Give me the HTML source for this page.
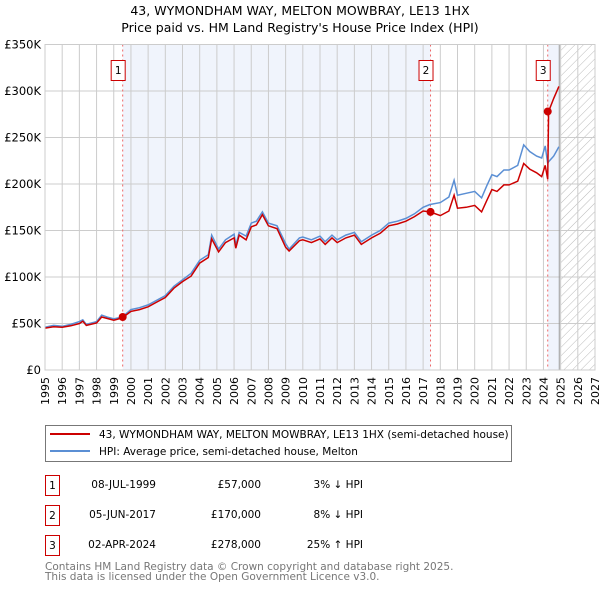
<!DOCTYPE html>
<html><head><meta charset="utf-8"><style>
body{margin:0;background:#fff;font-family:"DejaVu Sans","Liberation Sans",sans-serif;}
svg{display:block}
</style></head><body>
<svg id="c" width="600" height="590" viewBox="0 0 600 590" font-family="DejaVu Sans, Liberation Sans, sans-serif">
<defs>
<pattern id="hatch" width="6" height="6" patternUnits="userSpaceOnUse" patternTransform="rotate(45)">
<line x1="0" y1="0" x2="0" y2="6" stroke="#bbb" stroke-width="1"/></pattern>
</defs>
<text x="300" y="15" text-anchor="middle" font-size="12.5">43, WYMONDHAM WAY, MELTON MOWBRAY, LE13 1HX</text>
<text x="300" y="32" text-anchor="middle" font-size="12.5">Price paid vs. HM Land Registry's House Price Index (HPI)</text>
<g id="plot"></g>
<g>
<rect x="45.5" y="425.5" width="466" height="36" fill="#fff" stroke="#777"/>
<line x1="50" y1="434" x2="90" y2="434" stroke="#cc0000" stroke-width="2"/>
<text x="99" y="438" font-size="10.5">43, WYMONDHAM WAY, MELTON MOWBRAY, LE13 1HX (semi-detached house)</text>
<line x1="50" y1="451" x2="90" y2="451" stroke="#5b8fd4" stroke-width="2"/>
<text x="99" y="455" font-size="10.5">HPI: Average price, semi-detached house, Melton</text>
</g>
<g font-size="10.5">
<rect x="45.5" y="475.5" width="14" height="20" fill="none" stroke="#cc0000"/><text x="52.5" y="489" text-anchor="middle">1</text>
<text x="156" y="488" text-anchor="end">08-JUL-1999</text>
<text x="261" y="488" text-anchor="end">£57,000</text>
<text x="363" y="488" text-anchor="end">3% ↓ HPI</text>
<rect x="45.5" y="505.5" width="14" height="20" fill="none" stroke="#cc0000"/><text x="52.5" y="519" text-anchor="middle">2</text>
<text x="156" y="518" text-anchor="end">05-JUN-2017</text>
<text x="261" y="518" text-anchor="end">£170,000</text>
<text x="363" y="518" text-anchor="end">8% ↓ HPI</text>
<rect x="45.5" y="535.5" width="14" height="20" fill="none" stroke="#cc0000"/><text x="52.5" y="549" text-anchor="middle">3</text>
<text x="156" y="548" text-anchor="end">02-APR-2024</text>
<text x="261" y="548" text-anchor="end">£278,000</text>
<text x="363" y="548" text-anchor="end">25% ↑ HPI</text>
</g>
<text x="45" y="570" font-size="10.5" fill="#777">Contains HM Land Registry data © Crown copyright and database right 2025.</text>
<text x="45" y="580" font-size="10.5" fill="#777">This data is licensed under the Open Government Licence v3.0.</text>
</svg>
<script>
const years=[1995,1995.5,1996,1996.5,1997,1997.2,1997.4,1998,1998.3,1998.6,1999,1999.5,2000,2000.5,2001,2001.5,2002,2002.5,2003,2003.5,2004,2004.5,2004.7,2005.1,2005.5,2006,2006.1,2006.3,2006.7,2007,2007.3,2007.65,2008,2008.5,2009,2009.2,2009.8,2010,2010.5,2011,2011.3,2011.7,2012,2012.5,2013,2013.4,2014,2014.5,2015,2015.5,2016,2016.5,2017,2017.4,2018,2018.5,2018.8,2019,2019.5,2020,2020.4,2020.7,2021,2021.3,2021.7,2022,2022.5,2022.85,2023.2,2023.6,2023.9,2024.1,2024.25,2024.3,2024.6,2024.9];
const hpiValues=[46,48,47,49,52,54,49,52,59,57,55,57,65,67,70,75,80,90,97,104,118,124,145,130,140,146,134,148,144,158,160,170,158,155,136,130,142,143,140,144,138,145,140,145,148,138,145,150,158,160,163,168,175,178,180,186,204,188,190,192,185,198,210,208,215,215,220,242,235,230,228,241,222,224,230,240];
const propValues=[45,46.5,46,47.5,50,52.5,48,50.5,57,55.5,53.5,56,63,65,68,73,78,88,95,101,115,121,141,127,137,142,131,145,140,154,156,167,155,152,132,128,139,140,137,141,135,142,137,142,145,135,142,147,155,157,160,165,171,170,166,171,188,174,175,177,170,182,194,192,199,199,203,222,216,212,208,220,205,278,292,305];
const sales=[[1999.52,57],[2017.43,170],[2024.25,278]];
const yTicks=[0,50,100,150,200,250,300,350];
const xTicks=[1995,1996,1997,1998,1999,2000,2001,2002,2003,2004,2005,2006,2007,2008,2009,2010,2011,2012,2013,2014,2015,2016,2017,2018,2019,2020,2021,2022,2023,2024,2025,2026,2027];
const X0=45,X1=595,Y0=370,Y1=44.5;
const xs=y=>X0+(y-1995)/(2027-1995)*(X1-X0);
const ys=v=>Y0-v/350*(Y0-Y1);
const NS="http://www.w3.org/2000/svg";
const g=document.getElementById('plot');
function mk(t,a,p){const e=document.createElementNS(NS,t);for(const k in a)e.setAttribute(k,a[k]);(p||g).appendChild(e);return e;}
let e;
e=mk('rect',{x:xs(sales[0][0]),y:Y1,width:xs(sales[1][0])-xs(sales[0][0]),height:Y0-Y1,fill:'#f0f4fc'});


e=mk('rect',{x:xs(sales[2][0]),y:Y1,width:xs(2024.92)-xs(sales[2][0]),height:Y0-Y1,fill:'#f0f4fc'});


e=mk('rect',{x:xs(2025),y:Y1,width:X1-xs(2025),height:Y0-Y1,fill:'url(#hatch)'});


xTicks.forEach(t=>{e=mk('line',{x1:xs(t),x2:xs(t),y1:Y1,y2:Y0,stroke:'#ccc','stroke-width':1});


const x=xs(t)+4,y=Y0+35;
e=mk('text',{x:x,y:y,'font-size':11,transform:`rotate(-90 ${x} ${y})`});e.textContent=t;

});
yTicks.forEach(t=>{e=mk('line',{x1:X0,x2:X1,y1:ys(t),y2:ys(t),stroke:'#ccc','stroke-width':1});


e=mk('text',{x:X0-4,y:ys(t)+4,'font-size':11.5,'text-anchor':'end'});e.textContent=t==0?'£0':'£'+t+'K';

});
e=mk('line',{x1:xs(2024.92),x2:xs(2024.92),y1:Y1,y2:Y0,stroke:'#999','stroke-width':1});


sales.forEach((s,i)=>{e=mk('line',{x1:xs(s[0]),x2:xs(s[0]),y1:Y1,y2:Y0,stroke:'#e66','stroke-width':1,'stroke-dasharray':'2,3'});


e=mk('rect',{x:xs(s[0])-11.5,y:60.5,width:14,height:20,fill:'#fff',stroke:'#cc0000'});


e=mk('text',{x:xs(s[0])-4.5,y:74,'font-size':10.5,'text-anchor':'middle'});e.textContent=i+1;

});
const pts=a=>years.map((y,i)=>xs(y).toFixed(1)+','+ys(a[i]).toFixed(1)).join(' ');
e=mk('polyline',{points:pts(hpiValues),fill:'none',stroke:'#5b8fd4','stroke-width':1.5});


e=mk('polyline',{points:pts(propValues),fill:'none',stroke:'#cc0000','stroke-width':1.5});


sales.forEach(s=>{e=mk('circle',{cx:xs(s[0]),cy:ys(s[1]),r:4,fill:'#cc0000'});

});
e=mk('rect',{x:X0,y:Y1,width:X1-X0,height:Y0-Y1,fill:'none',stroke:'#ccc'});


</script>
</body></html>
